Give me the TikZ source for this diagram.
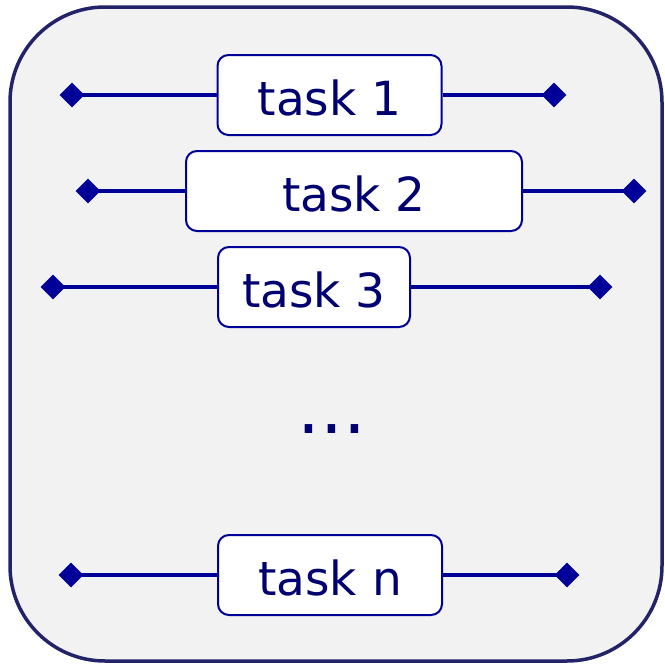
\documentclass[tikz,border=0pt]{standalone}
\usepackage{fontspec}
\setmainfont{DejaVu Sans}
\usetikzlibrary{shapes.geometric}
\definecolor{lineblue}{HTML}{000099}
\definecolor{textnavy}{HTML}{000070}
\definecolor{framenavy}{HTML}{23236A}
\definecolor{panelgray}{HTML}{F2F2F2}
\begin{document}
\begin{tikzpicture}[x=1pt,y=-1pt,
  taskbox/.style={draw=lineblue, line width=2pt, fill=white, rounded corners=11pt,
    minimum height=80pt, inner sep=0pt, text=textnavy,
    text height=40pt, text depth=0pt,
    font=\fontsize{47}{56}\selectfont},
  endmark/.style={diamond, fill=lineblue, draw=none, minimum width=25pt,
    minimum height=25pt, inner sep=0pt},
  link/.style={draw=lineblue, line width=4pt}]
  \useasboundingbox (0,0) rectangle (665,664);
  % outer panel
  \draw[framenavy, line width=3.5pt, fill=panelgray, rounded corners=95pt]
    (10,7) rectangle (662,661);

  % task rows
  \node[taskbox, minimum width=224pt] (t1) at (329.5,95) {task 1};
  \node[endmark] (t1l) at (72,95) {};
  \node[endmark] (t1r) at (554,95) {};
  \draw[link] (t1l.center) -- (t1.west);
  \draw[link] (t1.east) -- (t1r.center);

  \node[taskbox, minimum width=336pt] (t2) at (354,191) {task 2};
  \node[endmark] (t2l) at (88,191) {};
  \node[endmark] (t2r) at (634,191) {};
  \draw[link] (t2l.center) -- (t2.west);
  \draw[link] (t2.east) -- (t2r.center);

  \node[taskbox, minimum width=192pt] (t3) at (314,287) {task 3};
  \node[endmark] (t3l) at (53,287) {};
  \node[endmark] (t3r) at (600,287) {};
  \draw[link] (t3l.center) -- (t3.west);
  \draw[link] (t3.east) -- (t3r.center);

  \node[text=textnavy, inner sep=0pt, font=\fontsize{72}{80}\selectfont] (dots) at (332,429) {...};

  \node[taskbox, minimum width=224pt] (tn) at (330,575) {task n};
  \node[endmark] (tnl) at (71,575) {};
  \node[endmark] (tnr) at (567,575) {};
  \draw[link] (tnl.center) -- (tn.west);
  \draw[link] (tn.east) -- (tnr.center);
\end{tikzpicture}
\end{document}
